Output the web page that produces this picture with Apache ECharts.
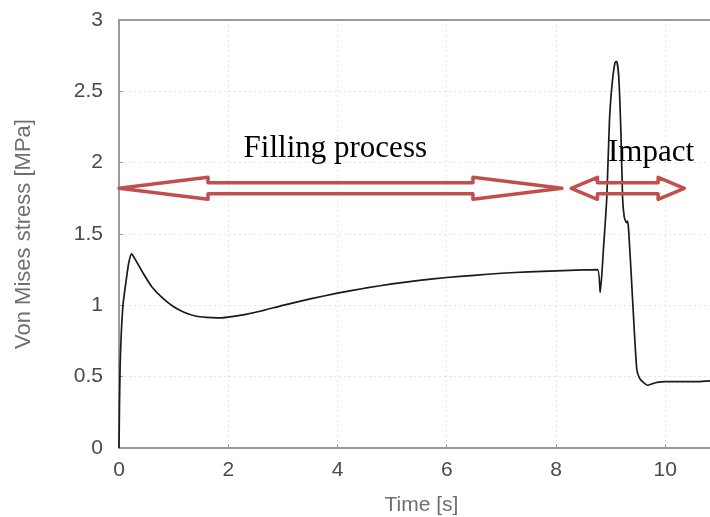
<!DOCTYPE html>
<html>
<head>
<meta charset="utf-8">
<script src="https://cdn.jsdelivr.net/npm/echarts@6/dist/echarts.min.js"></script>
<style>
  html, body { margin: 0; padding: 0; background: #fff; }
  #chart { width: 710px; height: 517px; }
</style>
</head>
<body>
<div id="chart"></div>
<script>
// stress curve
var time = [0, 0.02, 0.07, 0.14, 0.18, 0.23, 0.3, 0.45, 0.6, 0.8, 1.0, 1.2, 1.4, 1.6, 1.8, 2.0, 2.3, 2.6, 3.0, 3.5, 4.0, 4.5, 5.0, 5.5, 6.0, 6.5, 7.0, 7.5, 8.0, 8.5, 8.76, 8.81, 8.87, 8.93, 8.98, 9.03, 9.08, 9.11, 9.15, 9.19, 9.22, 9.25, 9.29, 9.31, 9.33, 9.38, 9.43, 9.48, 9.53, 9.6, 9.68, 9.76, 9.85, 10.0, 10.3, 10.6, 10.82];
var stress = [0, 0.57, 0.99, 1.2, 1.3, 1.36, 1.32, 1.22, 1.13, 1.05, 0.99, 0.95, 0.925, 0.915, 0.912, 0.918, 0.935, 0.96, 1.0, 1.045, 1.085, 1.12, 1.15, 1.175, 1.195, 1.21, 1.225, 1.235, 1.242, 1.248, 1.25, 1.09, 1.4, 1.75, 2.3, 2.56, 2.7, 2.71, 2.6, 2.2, 1.75, 1.62, 1.58, 1.59, 1.53, 1.2, 0.85, 0.55, 0.49, 0.46, 0.44, 0.45, 0.46, 0.465, 0.465, 0.465, 0.47];

// annotation arrows (time units) and their captions
var arrowFrom = [0, 8.28];
var arrowTo = [8.11, 10.35];
var arrowLevel = [1.82, 1.82];
var arrowHead = [1.63, 0.48];
var captionText = ["Filling process", "Impact"];
var captionX = [3.96, 9.74];
var captionY = [2.095, 2.07];

var xTicks = [0, 2, 4, 6, 8, 10];

var chart = echarts.init(document.getElementById("chart"));

var lineData = time.map(function (t, i) { return [t, stress[i]]; });
var arrowData = arrowFrom.map(function (a, i) { return [a, arrowTo[i], arrowLevel[i], arrowHead[i]]; });
var captionData = captionText.map(function (c, i) { return [captionX[i], captionY[i], c]; });

var red = "#c0504d";

function renderArrow(params, api) {
  var p0 = api.coord([api.value(0), api.value(2)]);
  var p1 = api.coord([api.value(1), api.value(2)]);
  var ph = api.coord([api.value(0) + api.value(3), api.value(2)]);
  var h = ph[0] - p0[0];
  var y = p0[1];
  var head = 11, shaft = 5.5;
  var pts = [
    [p0[0], y],
    [p0[0] + h, y - head],
    [p0[0] + h, y - shaft],
    [p1[0] - h, y - shaft],
    [p1[0] - h, y - head],
    [p1[0], y],
    [p1[0] - h, y + head],
    [p1[0] - h, y + shaft],
    [p0[0] + h, y + shaft],
    [p0[0] + h, y + head]
  ];
  return {
    type: "polygon",
    shape: { points: pts },
    style: { fill: "none", stroke: red, lineWidth: 3.5, lineJoin: "round" }
  };
}

function renderCaption(params, api) {
  var p = api.coord([api.value(0), api.value(1)]);
  return {
    type: "text",
    x: p[0],
    y: p[1],
    style: {
      text: captionData[params.dataIndex][2],
      fill: "#000",
      font: "31px 'Liberation Serif', 'Times New Roman', serif",
      align: "center",
      verticalAlign: "middle"
    }
  };
}

var axisGray = "#9a9a9a";

var option = {
  animation: false,
  grid: { left: 119, right: 0, top: 20, bottom: 69, outerBoundsMode: "none" },
  xAxis: [
    {
      type: "value",
      min: 0,
      max: 10.82,
      interval: 2,
      name: "Time [s]",
      nameLocation: "middle",
      nameGap: 47,
      nameTextStyle: { color: "#6f6f6f", fontSize: 21, fontFamily: "Liberation Sans", padding: [0, 0, 0, 14] },
      axisLine: { lineStyle: { color: axisGray, width: 2 } },
      axisTick: { inside: true, length: 4, lineStyle: { color: axisGray } },
      axisLabel: {
        color: "#4a4a4a",
        fontSize: 21,
        fontFamily: "Liberation Sans",
        margin: 12,
        showMaxLabel: false,
        formatter: function (v) { return xTicks.indexOf(v) >= 0 ? String(v) : ""; }
      },
      splitLine: { lineStyle: { color: "#e4e4e4", type: [2, 3] } }
    },
    {
      type: "value",
      position: "top",
      min: 0,
      max: 10.82,
      axisLine: { show: true, onZero: false, lineStyle: { color: axisGray, width: 2 } },
      axisTick: { show: false },
      axisLabel: { show: false },
      splitLine: { show: false }
    }
  ],
  yAxis: {
    type: "value",
    min: 0,
    max: 3,
    interval: 0.5,
    name: "Von Mises stress [MPa]",
    nameLocation: "middle",
    nameGap: 84,
    nameTextStyle: { color: "#6f6f6f", fontSize: 22, fontFamily: "Liberation Sans" },
    axisLine: { show: true, lineStyle: { color: axisGray, width: 2 } },
    axisTick: { show: true, inside: true, length: 4, lineStyle: { color: axisGray } },
    axisLabel: { color: "#4a4a4a", fontSize: 21, fontFamily: "Liberation Sans", margin: 16 },
    splitLine: { lineStyle: { color: "#e4e4e4", type: [2, 3] } }
  },
  series: [
    {
      type: "line",
      data: lineData,
      showSymbol: false,
      smooth: 0.2,
      lineStyle: { color: "#1a1a1a", width: 1.7 },
      z: 3
    },
    {
      type: "custom",
      data: arrowData,
      renderItem: renderArrow,
      clip: false,
      silent: true,
      z: 4
    },
    {
      type: "custom",
      data: captionData.map(function (d) { return [d[0], d[1]]; }),
      renderItem: renderCaption,
      clip: false,
      silent: true,
      z: 5
    }
  ]
};

chart.setOption(option);
</script>
</body>
</html>
